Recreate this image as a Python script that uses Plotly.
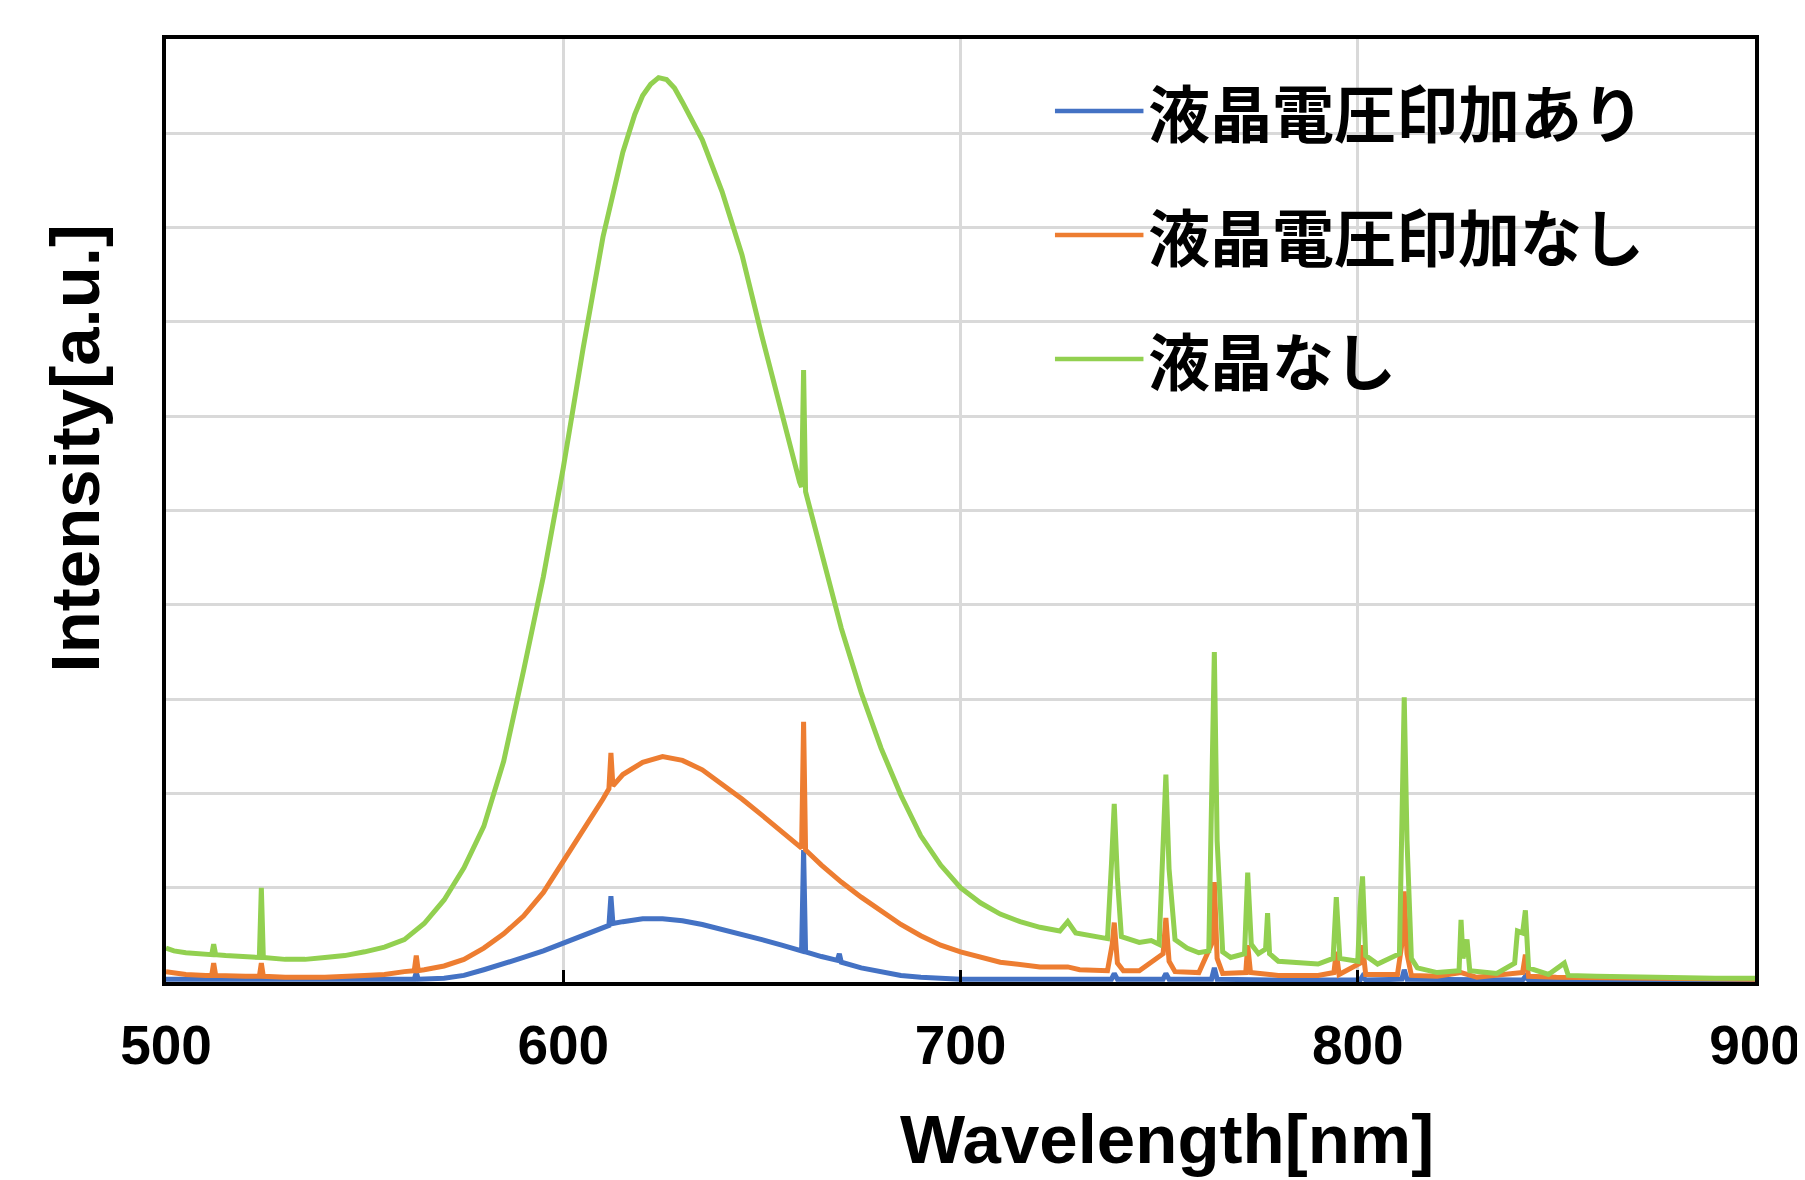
import plotly.graph_objects as go

# ---- data ----
series_names = ["液晶電圧印加あり", "液晶電圧印加なし", "液晶なし"]
series_colors = ["#4472C4", "#ED7D31", "#92D050"]

blue_nm = [500, 520, 540, 560, 562.5, 563, 563.5, 570, 575, 580, 585, 590, 595, 600, 605, 610,
           611.5, 612, 612.5, 615, 620, 625, 630, 635, 640, 645, 650, 655, 659.5, 660, 660.5, 661,
           665, 669, 669.5, 670, 675, 680, 685, 690, 700, 720, 738, 738.7, 739.5, 751, 751.7, 752.5,
           763.2, 763.9, 764.6, 780, 800.6, 801.2, 802, 811.1, 811.7, 812.4, 830, 841.5, 842.2, 843,
           870, 900]
blue_val = [0.03, 0.03, 0.03, 0.03, 0.03, 0.10, 0.03, 0.04, 0.07, 0.13, 0.19, 0.26, 0.33, 0.41, 0.49, 0.57,
            0.60, 0.91, 0.62, 0.64, 0.67, 0.67, 0.65, 0.61, 0.56, 0.51, 0.45, 0.39, 0.34, 0.33, 1.40, 0.32,
            0.27, 0.23, 0.30, 0.21, 0.15, 0.11, 0.07, 0.05, 0.03, 0.03, 0.03, 0.09, 0.03, 0.03, 0.09, 0.03,
            0.03, 0.15, 0.03, 0.02, 0.02, 0.06, 0.02, 0.03, 0.13, 0.03, 0.02, 0.02, 0.06, 0.02,
            0.02, 0.02]

orange_nm = [500, 505, 510, 511.5, 512, 512.5, 520, 523.5, 524, 524.5, 530, 540, 550, 555, 560, 562.5,
             563, 563.5, 565, 570, 575, 580, 585, 590, 595, 600, 605, 610, 611.5, 612, 612.5, 615, 620,
             625, 630, 635, 640, 645, 650, 655, 659.5, 660, 660.5, 661, 665, 670, 675, 680, 685, 690,
             695, 700, 705, 710, 720, 727, 730, 737, 738.2, 738.7, 739.5, 741, 745, 751, 751.7, 752.5,
             754, 760, 763.2, 763.9, 764.6, 766, 771.8, 772.3, 773, 780, 790, 794, 794.6, 795.3, 800.6,
             801.2, 802, 810, 811.1, 811.7, 812.4, 813.5, 820, 826, 830, 841.5, 842.2, 843, 850, 880, 900]
orange_val = [0.11, 0.08, 0.07, 0.07, 0.20, 0.07, 0.06, 0.06, 0.20, 0.06, 0.05, 0.05, 0.07, 0.08, 0.11, 0.12,
              0.28, 0.12, 0.13, 0.17, 0.24, 0.36, 0.51, 0.70, 0.95, 1.27, 1.61, 1.94, 2.05, 2.43, 2.08, 2.20, 2.33,
              2.39, 2.35, 2.25, 2.10, 1.94, 1.77, 1.59, 1.43, 1.42, 2.76, 1.40, 1.24, 1.06, 0.90, 0.76, 0.61, 0.49,
              0.39, 0.32, 0.26, 0.21, 0.16, 0.16, 0.13, 0.12, 0.40, 0.63, 0.20, 0.12, 0.12, 0.30, 0.68, 0.22,
              0.11, 0.10, 0.40, 1.06, 0.25, 0.09, 0.10, 0.39, 0.10, 0.07, 0.07, 0.10, 0.32, 0.08, 0.20,
              0.39, 0.08, 0.08, 0.40, 0.96, 0.30, 0.07, 0.06, 0.10, 0.05, 0.10, 0.29, 0.06, 0.05, 0.04, 0.03]

green_nm = [500, 502, 505, 510, 511.5, 512, 512.5, 515, 520, 523.5, 524, 524.5, 530, 535, 540, 545, 550,
            555, 560, 565, 570, 575, 580, 585, 590, 595, 600, 605, 610, 615, 618, 620, 622, 624, 626, 628,
            630, 633, 635, 640, 645, 650, 655, 659.5, 660, 660.5, 661, 665, 670, 675, 680, 685, 690, 695,
            700, 705, 710, 715, 720, 725, 727, 729, 735, 737, 738, 738.7, 739.5, 740.5, 745, 748, 750,
            751.0, 751.7, 752.5, 754, 757, 760, 762.5, 763.4, 763.9, 764.6, 766, 768, 771.5, 772.3, 773.2,
            775, 776.8, 777.3, 777.8, 780, 785, 790, 793.8, 794.6, 795.5, 800, 800.6, 801.2, 802, 805,
            810.5, 811.2, 811.7, 812.4, 813.5, 815, 820, 825.5, 826.0, 826.5, 827.5, 828.2, 835, 839.5,
            840.2, 841.5, 842.2, 843, 848, 852, 853, 860, 870, 880, 890, 900]
green_val = [0.36, 0.33, 0.31, 0.29, 0.29, 0.40, 0.29, 0.28, 0.27, 0.26, 1.00, 0.26, 0.24, 0.24, 0.26, 0.28, 0.32,
             0.37, 0.45, 0.62, 0.87, 1.21, 1.65, 2.34, 3.30, 4.30, 5.45, 6.72, 7.90, 8.80, 9.20, 9.40, 9.52, 9.59, 9.57, 9.48,
             9.33, 9.10, 8.93, 8.38, 7.71, 6.85, 6.02, 5.30, 5.25, 6.49, 5.20, 4.55, 3.75, 3.07, 2.48, 1.98, 1.55, 1.24,
             1.00, 0.84, 0.72, 0.64, 0.58, 0.54, 0.64, 0.52, 0.47, 0.46, 1.25, 1.89, 1.10, 0.48, 0.42, 0.44, 0.40,
             1.40, 2.20, 1.20, 0.45, 0.36, 0.31, 0.33, 2.20, 3.50, 1.50, 0.32, 0.26, 0.30, 1.16, 0.40,
             0.30, 0.35, 0.73, 0.30, 0.22, 0.20, 0.19, 0.25, 0.90, 0.25, 0.22, 0.80, 1.12, 0.28, 0.19,
             0.30, 2.00, 3.02, 1.50, 0.25, 0.15, 0.10, 0.12, 0.66, 0.25, 0.45, 0.12, 0.09, 0.20,
             0.54, 0.52, 0.76, 0.15, 0.08, 0.20, 0.07, 0.06, 0.05, 0.05, 0.04, 0.04]

x_ticks = [500, 600, 700, 800, 900]
x_title = "Wavelength[nm]"
y_title = "Intensity[a.u.]"

# ---- figure ----
W, H = 1805, 1180
ML, MR, MT, MB = 158, 49, 31, 206
pw = W - ML - MR
ph = H - MT - MB

fig = go.Figure()
for nm, val, name, col in [(blue_nm, blue_val, series_names[0], series_colors[0]),
                           (orange_nm, orange_val, series_names[1], series_colors[1]),
                           (green_nm, green_val, series_names[2], series_colors[2])]:
    fig.add_trace(go.Scatter(x=nm, y=val, mode="lines", name=name,
                             line=dict(color=col, width=5), showlegend=False))

axis_font = dict(family="Liberation Sans, Arial, sans-serif", size=55, color="black", weight="bold")
fig.update_xaxes(range=[500, 900], tickvals=x_ticks, ticktext=[str(t) for t in x_ticks],
                 showgrid=True, gridcolor="#D9D9D9", gridwidth=2.5,
                 showline=True, linecolor="black", linewidth=4, mirror=True,
                 ticks="inside", ticklen=12, tickwidth=3, tickcolor="black",
                 tickfont=axis_font, ticklabelstandoff=12, ticklabeloverflow="allow",
                 zeroline=False)
fig.update_yaxes(range=[0, 10], dtick=1, showticklabels=False,
                 showgrid=True, gridcolor="#D9D9D9", gridwidth=2.5,
                 showline=True, linecolor="black", linewidth=4, mirror=True,
                 ticks="", zeroline=False)

def px2paper(px, py):
    return (px - ML) / pw, (H - MB - py) / ph

title_font = dict(family="Liberation Sans, Arial, sans-serif", size=69, color="black", weight="bold")
ax, ay = px2paper(1165, 1131)
fig.add_annotation(text=x_title, xref="paper", yref="paper", x=ax, y=ay,
                   showarrow=False, font=title_font, xanchor="center", yanchor="middle")
ax, ay = px2paper(66, 440)
fig.add_annotation(text=y_title, xref="paper", yref="paper", x=ax, y=ay, textangle=-90,
                   showarrow=False, font=title_font, xanchor="center", yanchor="middle")

# custom legend
leg_font = dict(family="Noto Sans CJK JP", size=62, color="black", weight="bold")
rows_y = [103, 227, 351]
for name, col, ry in zip(series_names, series_colors, rows_y):
    x0, y0 = px2paper(1052, ry)
    x1, _ = px2paper(1141, ry)
    fig.add_shape(type="line", xref="paper", yref="paper", x0=x0, x1=x1, y0=y0, y1=y0,
                  line=dict(color=col, width=4.5))
    tx, ty = px2paper(1144, ry)
    fig.add_annotation(text=name, xref="paper", yref="paper", x=tx, y=ty, showarrow=False,
                       xanchor="left", yanchor="middle", font=leg_font)

fig.update_layout(width=W, height=H, margin=dict(l=ML, r=MR, t=MT, b=MB),
                  plot_bgcolor="white", paper_bgcolor="white")

fig.write_html("out.html")
